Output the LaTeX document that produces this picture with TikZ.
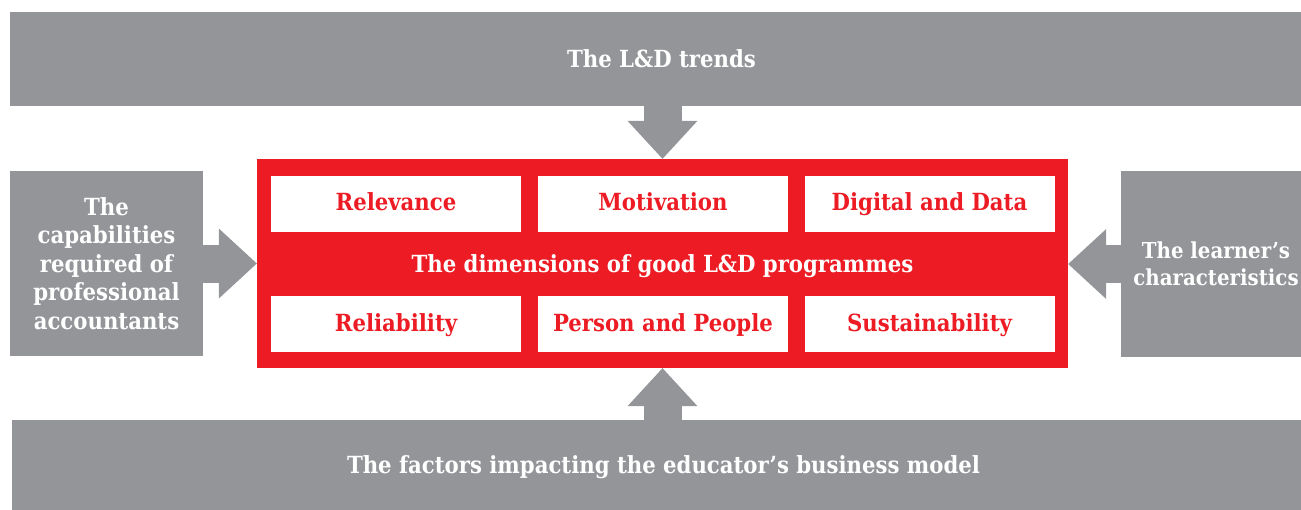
\documentclass[tikz,border=0pt]{standalone}
\usepackage{fontspec}
\setmainfont{DejaVu Serif Condensed}
\usetikzlibrary{arrows.meta}
\definecolor{ldgray}{HTML}{939598}
\definecolor{ldred}{HTML}{ED1C24}
\tikzset{every node/.style={rectangle,align=center,inner sep=0pt,font=\fontsize{23.6}{28.4}\selectfont\bfseries}}
\tikzset{g/.style={fill=ldgray,text=white}}
\tikzset{r/.style={fill=ldred,text=white}}
\tikzset{oneline/.style={text height=22pt,text depth=5pt}}
\tikzset{w/.style={fill=white,text=ldred,text height=19pt,text depth=5pt,minimum width=250pt,minimum height=56pt}}
\tikzset{bigarrow/.style={draw=ldgray,line width=38pt,-{Triangle[length=38pt,width=70pt,line width=0pt]}}}

\begin{document}
\begin{tikzpicture}[x=1pt,y=-1pt]
\useasboundingbox (0,0) rectangle (1301,509);
\node[g,oneline,minimum width=1303pt,minimum height=94pt](trends) at (661.5,59) {The L\&D trends};
\node[g,oneline,minimum width=1303pt,minimum height=90pt](factors) at (663.5,465) {The factors impacting the educator’s business model};
\node[g,minimum width=193pt,minimum height=185pt](capab) at (106.5,263.5) {The\\capabilities\\required of\\professional\\accountants};
\node[g,minimum width=190pt,minimum height=186pt,font=\fontsize{22}{27.5}\selectfont\bfseries](learner) at (1216,264) {The learner’s\\characteristics};
\node[r,oneline,minimum width=811pt,minimum height=209pt](dims) at (662.5,263.5) {The dimensions of good L\&D programmes};
\node[w](relev) at (396,203.5) {Relevance};
\node[w](motiv) at (663,203.5) {Motivation};
\node[w](digit) at (929.5,203.5) {Digital and Data};
\node[w](relia) at (396,324) {Reliability};
\node[w](person) at (663,324) {Person and People};
\node[w](sustain) at (929.5,324) {Sustainability};

\draw[bigarrow] (dims.north |- trends.south) -- (dims.north);
\draw[bigarrow] (dims.south |- factors.north) -- (dims.south);
\draw[bigarrow] (capab.east) -- (dims.west |- capab.east);
\draw[bigarrow] (learner.west) -- (dims.east |- learner.west);
\end{tikzpicture}
\end{document}
